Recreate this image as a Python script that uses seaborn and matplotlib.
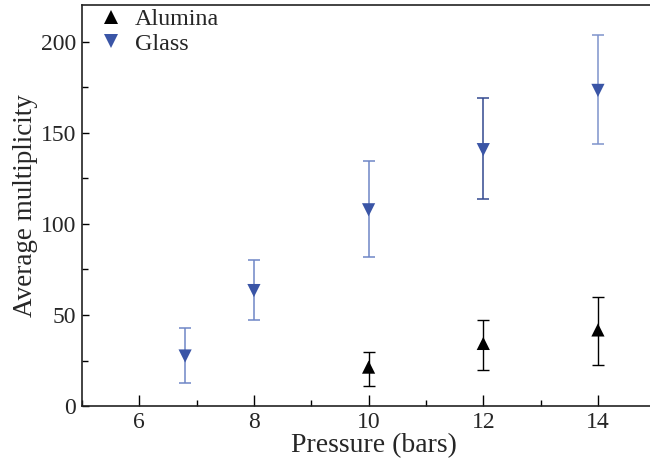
import matplotlib
matplotlib.use("Agg")
import matplotlib.pyplot as plt
from matplotlib.ticker import MultipleLocator
import seaborn as sns
import pandas as pd

# Average multiplicity vs. pressure for two bead materials
glass_pressure = [6.8, 8, 10, 12, 14]
glass_mean = [27.5, 63.4, 107.7, 140.7, 173.2]
glass_low = [12.6, 47.3, 81.7, 113.5, 143.6]
glass_high = [43.0, 80.4, 134.4, 168.8, 203.8]

alumina_pressure = [10, 12, 14]
alumina_mean = [21.4, 34.4, 41.8]
alumina_low = [11.0, 19.8, 22.5]
alumina_high = [29.8, 47.4, 60.0]

x_ticks = [6, 8, 10, 12, 14]
y_ticks = [0, 50, 100, 150, 200]

glass_color = "#3a55a6"
glass_bar_colors = ["#6f86c6", "#6f86c6", "#6f86c6", "#33498f", "#7e93cc"]

sns.set_style("ticks")
plt.rcParams["font.family"] = ["Liberation Serif", "DejaVu Serif"]
plt.rcParams["mathtext.fontset"] = "stix"

df = pd.concat([
    pd.DataFrame({"Pressure": alumina_pressure, "Mean": alumina_mean,
                  "Material": "Alumina"}),
    pd.DataFrame({"Pressure": glass_pressure, "Mean": glass_mean,
                  "Material": "Glass"}),
], ignore_index=True)

fig = plt.figure(figsize=(6.5, 4.61), dpi=100)
# the plotting area runs a little past the right edge of the canvas
ax = fig.add_axes([0.126, 0.119, 0.898, 0.870])

# error bars drawn from the lower/upper bounds
for x, m, lo, hi, c in zip(glass_pressure, glass_mean, glass_low, glass_high,
                           glass_bar_colors):
    ax.errorbar([x], [m], yerr=[[m - lo], [hi - m]], fmt="none", ecolor=c,
                elinewidth=1.1, capsize=4, capthick=1.1, zorder=2)
for x, m, lo, hi in zip(alumina_pressure, alumina_mean, alumina_low,
                        alumina_high):
    ax.errorbar([x], [m], yerr=[[m - lo], [hi - m]], fmt="none", ecolor="black",
                elinewidth=1.0, capsize=4, capthick=1.0, zorder=2)

sns.scatterplot(data=df, x="Pressure", y="Mean", hue="Material",
                style="Material", markers={"Alumina": "^", "Glass": "v"},
                palette={"Alumina": "black", "Glass": glass_color},
                s=90, linewidth=0, ax=ax, zorder=3)

ax.set_xlim(5.0, 15.18)
ax.set_ylim(0, 220)
ax.set_xticks(x_ticks)
ax.set_yticks(y_ticks)
ax.xaxis.set_minor_locator(MultipleLocator(1))
ax.yaxis.set_minor_locator(MultipleLocator(25))
ax.tick_params(axis="both", which="both", direction="in", labelsize=17,
               color="black", width=1.0)
ax.tick_params(axis="x", which="major", length=8, pad=4)
ax.tick_params(axis="x", which="minor", length=4)
ax.tick_params(axis="y", which="major", length=5, pad=4)
ax.tick_params(axis="y", which="minor", length=4.5)

for side in ("left", "bottom", "top"):
    ax.spines[side].set_visible(True)
    ax.spines[side].set_linewidth(1.2)
    ax.spines[side].set_color("#222222")
ax.spines["right"].set_visible(False)

ax.set_xlabel("Pressure (bars)", fontsize=20, labelpad=0)
ax.set_ylabel("Average multiplicity", fontsize=19.5, labelpad=2)

leg = ax.legend(loc="upper left", bbox_to_anchor=(-0.02, 1.045), frameon=False,
                fontsize=17.3, handletextpad=0.2, labelspacing=0.1,
                handlelength=1.6, markerscale=1.0, title=None)

fig.savefig("out.png", dpi=100)
